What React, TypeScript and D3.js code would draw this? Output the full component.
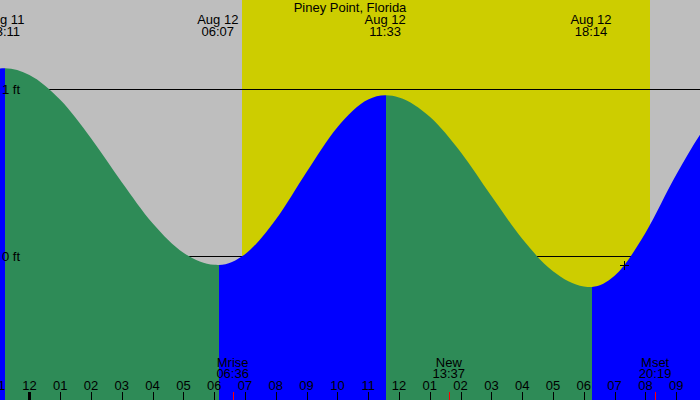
import React from "react";
import * as d3 from "d3";

const title = "Piney Point, Florida";

// tide extremes
const tideDates = ["Aug 11", "Aug 12", "Aug 12", "Aug 12"];
const tideTimes = ["23:11", "06:07", "11:33", "18:14"];
const tideDayOffsets = [-1, 0, 0, 0];

// tide curve (hours from midnight Aug 12, feet)
const curveHours = [-1, -0.817, 0, 1, 2, 3, 4, 5, 6, 6.117, 7, 8, 9, 10, 11, 11.55, 12, 13, 14, 15, 16, 17, 18, 18.233, 19, 20, 21, 22, 22.5];
const curveFeet = [1.124, 1.126, 1.086, 0.937, 0.707, 0.443, 0.197, 0.02, -0.053, -0.054, 0.011, 0.219, 0.504, 0.773, 0.939, 0.964, 0.951, 0.835, 0.624, 0.36, 0.103, -0.092, -0.183, -0.186, -0.119, 0.138, 0.487, 0.782, 0.869];

// sun
const sunrise = "06:54";
const sunset = "20:09";

// moon events
const moonLabels = ["Mrise", "New", "Mset"];
const moonTimes = ["06:36", "13:37", "20:19"];

// hour ticks
const tickHours = [-1, 0, 1, 2, 3, 4, 5, 6, 7, 8, 9, 10, 11, 12, 13, 14, 15, 16, 17, 18, 19, 20, 21];

// level lines
const levelFeet = [1, 0];
const levelLabels = ["1 ft", "0 ft"];

// marker
const markerTime = "19:18";
const markerFeet = -0.054;

const W = 700;
const H = 400;
const FONT = "'Liberation Sans', Arial, Helvetica, sans-serif";

const toHours = (s: string, dayOffset = 0) => {
  const [h, m] = s.split(":").map(Number);
  return h + m / 60 + dayOffset * 24;
};

export default function App() {
  const x = d3.scaleLinear().domain([-0.9545, 21.773]).range([0, W]);
  const y = d3.scaleLinear().domain([0, 1]).range([256, 89.3]);

  const pts: [number, number][] = curveHours.map((h, i) => [h, curveFeet[i]]);
  const area = d3
    .area<[number, number]>()
    .x((d) => x(d[0]))
    .y0(H)
    .y1((d) => y(d[1]))
    .curve(d3.curveMonotoneX);
  const areaPath = area(pts) || "";

  const extremeHours = tideTimes.map((t, i) => toHours(t, tideDayOffsets[i]));
  const bounds = [curveHours[0], ...extremeHours, curveHours[curveHours.length - 1]];
  const nearest = (t: number) => {
    let best = 0;
    curveHours.forEach((h, k) => {
      if (Math.abs(h - t) < Math.abs(curveHours[best] - t)) best = k;
    });
    return best;
  };
  const segs = bounds.slice(0, -1).map((b, i) => {
    const a = b;
    const e = bounds[i + 1];
    const ia = nearest(a);
    const ie = nearest(e);
    const rising = curveFeet[ie] > curveFeet[ia];
    const px0 = i === 0 ? -10 : Math.round(x(a)) + 1;
    const px1 = i === bounds.length - 2 ? W + 10 : Math.round(x(e)) + 1;
    return { x0: px0, x1: px1, color: rising ? "#0000ff" : "#2e8b57" };
  });

  const sr = Math.round(x(toHours(sunrise)));
  const ss = Math.round(x(toHours(sunset)));

  const fmtHour = (h: number) => {
    const hh = ((h + 24) % 12) || 12;
    return String(hh).padStart(2, "0");
  };

  const mx = x(toHours(markerTime));
  const my = y(markerFeet);

  return (
    <svg
      width={W}
      height={H}
      style={{ position: "fixed", left: 0, top: 0, display: "block" }}
      fontFamily={FONT}
      fontSize={13}
    >
      <defs>
        {segs.map((s, i) => (
          <clipPath id={`seg${i}`} key={i}>
            <rect x={s.x0} y={-10} width={s.x1 - s.x0} height={H + 20} shapeRendering="crispEdges" />
          </clipPath>
        ))}
      </defs>
      <rect x={0} y={0} width={W} height={H} fill="#bebebe" />
      <rect x={sr} y={0} width={ss - sr} height={H} fill="#cdcd00" shapeRendering="crispEdges" />
      {levelFeet.map((f) => (
        <line key={f} x1={0} x2={W} y1={Math.round(y(f)) + 0.5} y2={Math.round(y(f)) + 0.5} stroke="#000" strokeWidth={1} />
      ))}
      {segs.map((s, i) => (
        <path key={i} d={areaPath} fill={s.color} clipPath={`url(#seg${i})`} />
      ))}
      {levelFeet.map((f, i) => (
        <text key={f} x={2} y={y(f) + 4.5} fill="#000">
          {levelLabels[i]}
        </text>
      ))}
      <text x={W / 2} y={12} textAnchor="middle" fill="#000">
        {title}
      </text>
      {tideTimes.map((t, i) => {
        const cx = x(extremeHours[i]);
        return (
          <g key={i}>
            <text x={cx} y={24} textAnchor="middle" fill="#000">
              {tideDates[i]}
            </text>
            <text x={cx} y={36} textAnchor="middle" fill="#000">
              {t}
            </text>
          </g>
        );
      })}
      {moonTimes.map((t, i) => {
        const cx = x(toHours(t));
        return (
          <g key={i}>
            <text x={cx} y={366.5} textAnchor="middle" fill="#000">
              {moonLabels[i]}
            </text>
            <text x={cx} y={377.5} textAnchor="middle" fill="#000">
              {t}
            </text>
            <line x1={Math.round(cx) + 0.5} x2={Math.round(cx) + 0.5} y1={392} y2={H} stroke="#ff0000" strokeWidth={1} />
          </g>
        );
      })}
      {tickHours.map((h) => {
        const cx = x(h);
        return (
          <g key={h}>
            <text x={cx} y={390} textAnchor="middle" fill="#000">
              {fmtHour(h)}
            </text>
            <line
              x1={Math.round(cx) + 0.5}
              x2={Math.round(cx) + 0.5}
              y1={392}
              y2={H}
              stroke="#000"
              strokeWidth={h === 0 ? 3 : 1}
            />
          </g>
        );
      })}
      <g stroke="#000" strokeWidth={1}>
        <line x1={Math.round(mx) - 4} x2={Math.round(mx) + 5} y1={Math.round(my) + 0.5} y2={Math.round(my) + 0.5} />
        <line x1={Math.round(mx) + 0.5} x2={Math.round(mx) + 0.5} y1={Math.round(my) - 4} y2={Math.round(my) + 5} />
      </g>
    </svg>
  );
}
